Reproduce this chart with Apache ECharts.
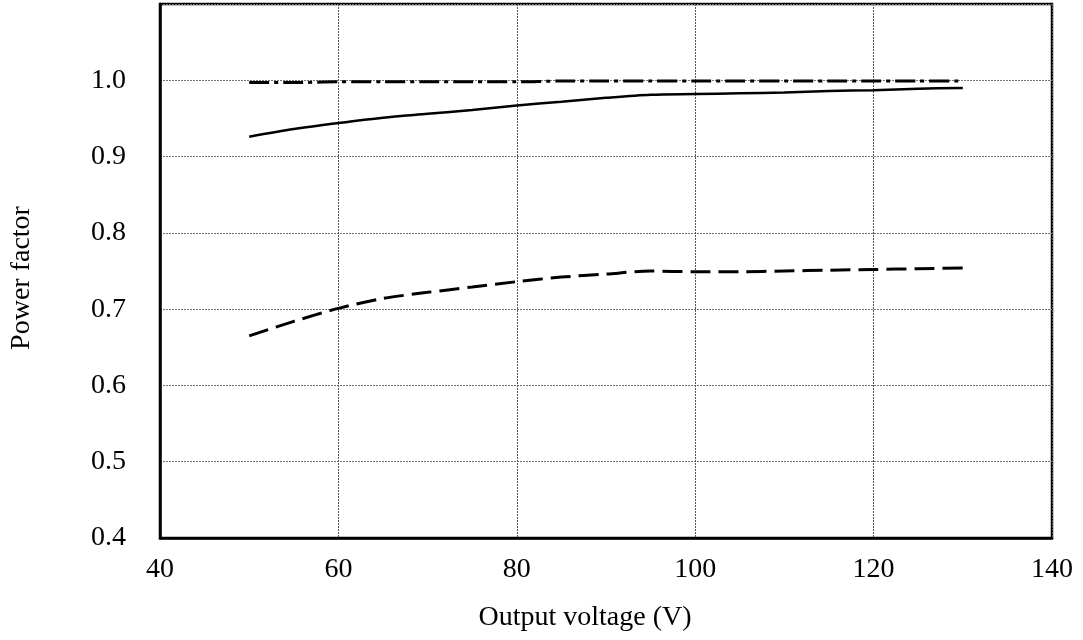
<!DOCTYPE html>
<html>
<head>
<meta charset="utf-8">
<script src="https://cdn.jsdelivr.net/npm/echarts@6/dist/echarts.min.js"></script>
<style>html,body{margin:0;padding:0;background:#fff}#c{width:1083px;height:640px}</style>
</head>
<body>
<div id="c"></div>
<script>
const voltages = [50, 55, 60, 65, 70, 75, 80, 85, 90, 95, 100, 105, 110, 115, 120, 125, 130];
const pfDashDot = [0.997, 0.997, 0.998, 0.998, 0.998, 0.998, 0.998, 0.999, 0.999, 0.999, 0.999, 0.999, 0.999, 0.999, 0.999, 0.999, 0.999];
const pfSolid = [0.926, 0.936, 0.944, 0.951, 0.956, 0.961, 0.967, 0.972, 0.977, 0.981, 0.982, 0.983, 0.984, 0.986, 0.987, 0.989, 0.990];
const pfDashed = [0.665, 0.684, 0.701, 0.714, 0.722, 0.729, 0.736, 0.742, 0.746, 0.750, 0.749, 0.749, 0.750, 0.751, 0.752, 0.753, 0.754];
const xTicks = [40, 60, 80, 100, 120, 140];
const yTicks = [0.4, 0.5, 0.6, 0.7, 0.8, 0.9, 1.0];

const font = 'Liberation Serif, Times New Roman, serif';
function pairs(ys) { return voltages.map((v, i) => [v, ys[i]]); }

const chart = echarts.init(document.getElementById('c'), null, {renderer: 'canvas'});
chart.setOption({
  backgroundColor: '#fff',
  animation: false,
  grid: {left: 157, right: 31, top: 4, bottom: 102, show: true, borderColor: '#000', borderWidth: 2.5, backgroundColor: 'transparent'},
  xAxis: {
    type: 'value', min: 40, max: 140, interval: 20,
    name: 'Output voltage (V)', nameLocation: 'middle', nameGap: 66,
    nameTextStyle: {fontFamily: font, fontSize: 28, color: '#000', padding: [0, 42, 0, 0]},
    axisLine: {show: true, lineStyle: {color: '#000', width: 2.5}},
    axisTick: {show: false},
    axisLabel: {fontFamily: font, fontSize: 28, color: '#000', margin: 18,
      formatter: v => xTicks.includes(v) ? String(v) : ''},
    splitLine: {show: true, lineStyle: {color: '#555', width: 1, type: [2, 1]}}
  },
  yAxis: {
    type: 'value', min: 0.4, max: 1.1, interval: 0.1,
    name: 'Power factor', nameLocation: 'middle', nameGap: 124,
    nameTextStyle: {fontFamily: font, fontSize: 28, color: '#000', padding: [0, 14, 0, 0]},
    axisLine: {show: true, lineStyle: {color: '#000', width: 2.5}},
    axisTick: {show: false},
    axisLabel: {fontFamily: font, fontSize: 28, color: '#000', margin: 34,
      formatter: v => { const t = yTicks.find(y => Math.abs(y - v) < 1e-6); return t !== undefined ? t.toFixed(1) : ''; }},
    splitLine: {show: true, lineStyle: {color: '#777', width: 1, type: [2, 1]}}
  },
  series: [
    {type: 'line', data: pairs(pfDashDot), showSymbol: false, smooth: 0.3,
      lineStyle: {color: '#000', width: 3, type: [20, 5, 4, 5]}},
    {type: 'line', data: pairs(pfSolid), showSymbol: false, smooth: 0.3,
      lineStyle: {color: '#000', width: 2.5, type: 'solid'}},
    {type: 'line', data: pairs(pfDashed), showSymbol: false, smooth: 0.3,
      lineStyle: {color: '#000', width: 3, type: [20, 8]}}
  ]
});
</script>
</body>
</html>
